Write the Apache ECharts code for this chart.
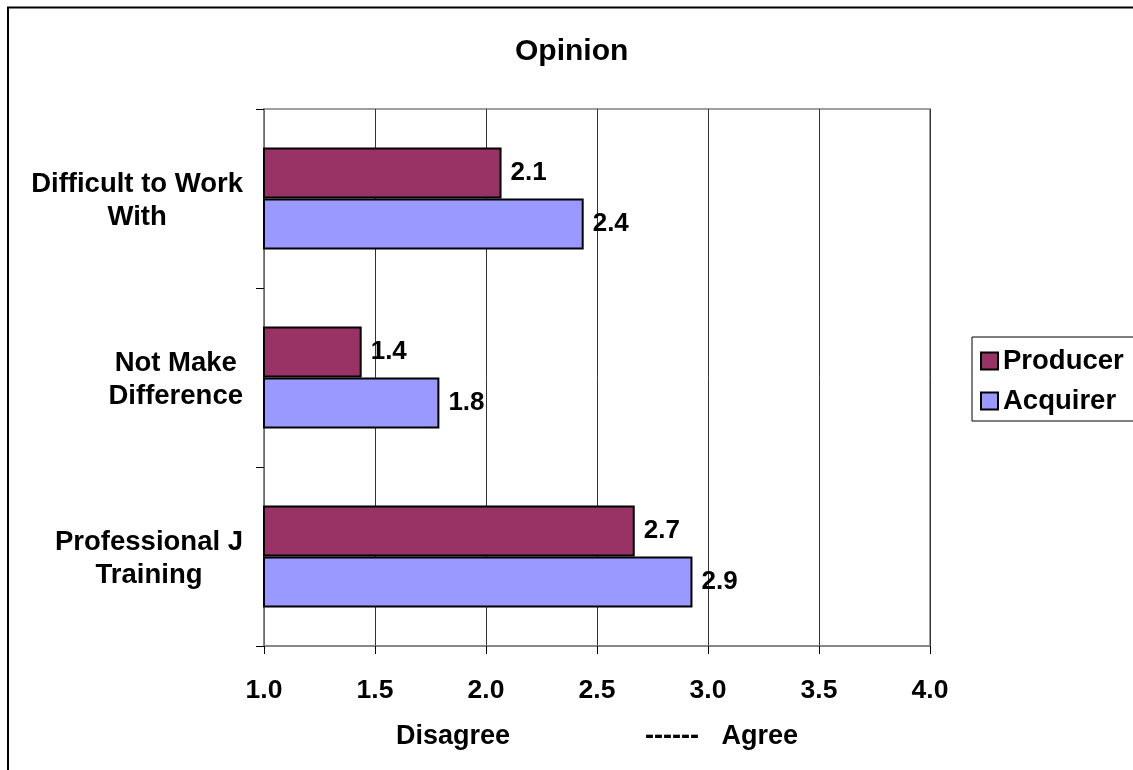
<!DOCTYPE html>
<html>
<head>
<meta charset="utf-8">
<title>Opinion</title>
<script src="https://cdn.jsdelivr.net/npm/echarts@6/dist/echarts.min.js"></script>
<style>
  html, body { margin: 0; padding: 0; background: #fff; }
  #chart { width: 1133px; height: 770px; }
</style>
</head>
<body>
<div id="chart"></div>
<script>
// Survey opinion scores (1 = disagree, 4 = agree)
const categories = ['Difficult to Work\nWith', 'Not Make\nDifference', 'Professional J\nTraining'];
const seriesNames = ['Producer', 'Acquirer'];
const producerValues = [2.07, 1.44, 2.67];
const acquirerValues = [2.44, 1.79, 2.93];
const xTicks = { min: 1.0, max: 4.0, interval: 0.5 };

const FONT = "'Liberation Sans', Arial, Helvetica, sans-serif";
const chart = echarts.init(document.getElementById('chart'), null, { renderer: 'canvas' });

const valueLabel = {
  show: true,
  position: 'right',
  distance: 9,
  color: '#000',
  fontFamily: FONT,
  fontWeight: 'bold',
  fontSize: 26,
  padding: [4, 0, 0, 0],
  formatter: p => p.value.toFixed(1)
};

chart.setOption({
  backgroundColor: '#fff',
  animation: false,
  title: {
    text: 'Opinion',
    left: 515,
    top: 37,
    padding: 0,
    textStyle: { fontFamily: FONT, fontWeight: 'bold', fontSize: 30, color: '#000' }
  },
  graphic: [{
    type: 'rect',
    silent: true,
    shape: { x: 8, y: 7.5, width: 1400, height: 1000 },
    style: { fill: 'none', stroke: '#000', lineWidth: 2 }
  }],
  legend: {
    orient: 'vertical',
    left: 972,
    top: 337,
    padding: [10, 14, 6, 8],
    itemGap: 12,
    itemWidth: 17,
    itemHeight: 17,
    borderColor: '#000',
    borderWidth: 1,
    icon: 'rect',
    data: seriesNames,
    textStyle: { fontFamily: FONT, fontWeight: 'bold', fontSize: 27.5, color: '#000', lineHeight: 26 }
  },
  grid: {
    left: 264, top: 109, right: 203, bottom: 124,
    show: true,
    borderColor: '#808080',
    borderWidth: 1.5,
    containLabel: false
  },
  xAxis: {
    type: 'value',
    min: xTicks.min,
    max: xTicks.max,
    interval: xTicks.interval,
    name: 'Disagree                  ------   Agree',
    nameLocation: 'middle',
    nameGap: 77,
    nameTextStyle: { fontFamily: FONT, fontWeight: 'bold', fontSize: 27, color: '#000' },
    axisLine: { show: true, lineStyle: { color: '#808080', width: 1.5 } },
    axisTick: { show: true, length: 8, lineStyle: { color: '#000', width: 1 } },
    axisLabel: {
      margin: 31,
      fontFamily: FONT, fontWeight: 'bold', fontSize: 26.5, color: '#000',
      formatter: v => v.toFixed(1)
    },
    splitLine: { show: true, lineStyle: { color: '#333', width: 1 } }
  },
  yAxis: {
    type: 'category',
    data: categories,
    inverse: true,
    axisLine: { show: true, lineStyle: { color: '#808080', width: 1.5 } },
    axisTick: { show: true, length: 8, lineStyle: { color: '#000', width: 1 } },
    axisLabel: {
      margin: 21,
      align: 'right',
      padding: [5, 0, 0, 0],
      formatter: v => v.split('\n').map(s => '{c|' + s + '}').join('\n'),
      rich: {
        c: { align: 'center', fontFamily: FONT, fontWeight: 'bold', fontSize: 27.5, color: '#000', lineHeight: 33 }
      }
    },
    splitLine: { show: false }
  },
  series: [
    {
      name: seriesNames[0],
      type: 'bar',
      data: producerValues,
      barGap: '0%',
      barCategoryGap: '43%',
      itemStyle: { color: '#993366', borderColor: '#000', borderWidth: 2 },
      label: valueLabel
    },
    {
      name: seriesNames[1],
      type: 'bar',
      data: acquirerValues,
      barGap: '0%',
      barCategoryGap: '43%',
      itemStyle: { color: '#9999FF', borderColor: '#000', borderWidth: 2 },
      label: valueLabel
    }
  ]
});
</script>
</body>
</html>
